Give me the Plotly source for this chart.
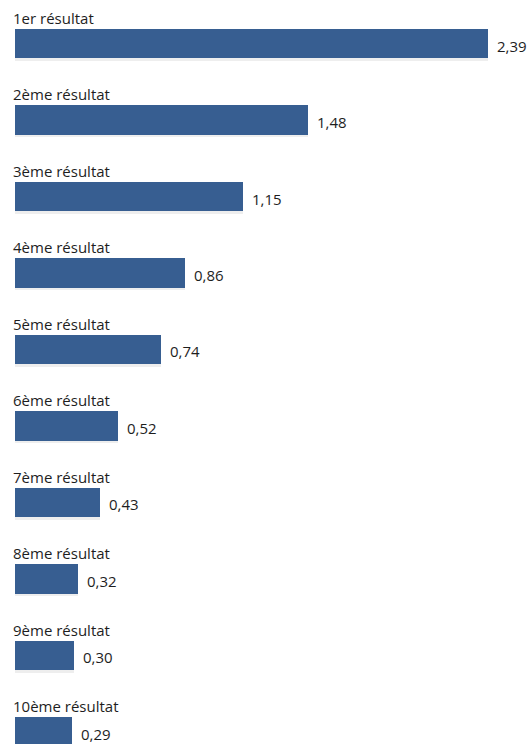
import plotly.graph_objects as go

# Scores of the top ten results
categories = ["1er résultat", "2ème résultat", "3ème résultat", "4ème résultat",
              "5ème résultat", "6ème résultat", "7ème résultat", "8ème résultat",
              "9ème résultat", "10ème résultat"]
values = [2.39, 1.48, 1.15, 0.86, 0.74, 0.52, 0.43, 0.32, 0.30, 0.29]
value_labels = ["2,39", "1,48", "1,15", "0,86", "0,74", "0,52", "0,43", "0,32", "0,30", "0,29"]

positions = list(range(len(categories)))
bar_width = 0.38
font_family = "'Open Sans', 'Noto Sans', sans-serif"

fig = go.Figure()

# soft drop shadow under each bar
fig.add_trace(go.Bar(
    x=values, y=positions, orientation="h",
    width=bar_width, offset=-bar_width / 2 + 0.035,
    marker=dict(color="rgba(120,120,120,0.13)", line=dict(width=0)),
    hoverinfo="skip", showlegend=False,
))

# main bars
fig.add_trace(go.Bar(
    x=values, y=positions, orientation="h",
    width=bar_width, offset=-bar_width / 2,
    marker=dict(color="#375E91", line=dict(width=0)),
    showlegend=False,
))

annotations = []
for pos, cat, val, lab in zip(positions, categories, values, value_labels):
    # category label sitting just above its bar
    annotations.append(dict(
        x=0, y=pos - bar_width / 2, xref="x", yref="y",
        text=cat, showarrow=False, xanchor="left", yanchor="bottom",
        xshift=-4, yshift=-1,
        font=dict(family=font_family, size=15, color="#1e1e1e"),
    ))
    # value label to the right of the bar
    annotations.append(dict(
        x=val, y=pos, xref="x", yref="y",
        text=lab, showarrow=False, xanchor="left", yanchor="middle",
        xshift=7, yshift=-2,
        font=dict(family=font_family, size=15, color="#1e1e1e"),
    ))

fig.update_layout(
    width=531, height=744,
    margin=dict(l=0, r=0, t=0, b=0),
    paper_bgcolor="white", plot_bgcolor="white",
    barmode="overlay",
    bargap=0,
    xaxis=dict(range=[-0.0758, 2.607], visible=False, fixedrange=True),
    yaxis=dict(range=[9.157, -0.5686], visible=False, fixedrange=True),
    annotations=annotations,
)

fig.write_html("out.html")
